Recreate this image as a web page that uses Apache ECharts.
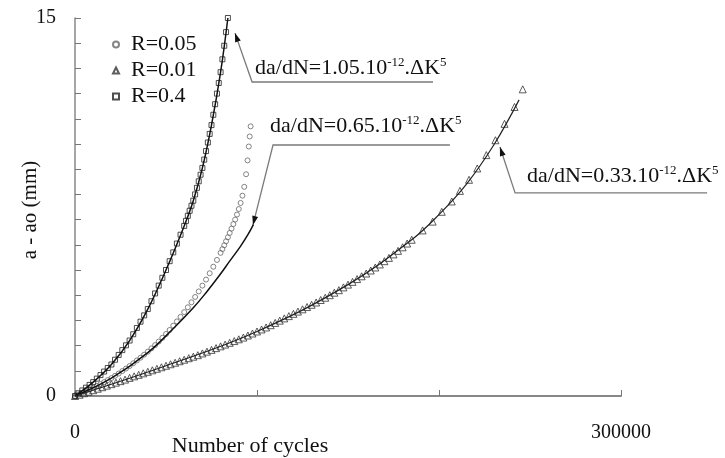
<!DOCTYPE html>
<html>
<head>
<meta charset="utf-8">
<script src="https://cdn.jsdelivr.net/npm/echarts@6/dist/echarts.min.js"></script>
<style>
  html, body { margin: 0; padding: 0; background: #fff; }
  #chart { width: 725px; height: 458px; }
</style>
</head>
<body>
<div id="chart"></div>
<script>
// x: number of cycles, y: a - ao (mm)
var xMax = 300000;
var yMax = 15;

// R=0.4 (squares)
var nR04 = [0, 2000, 4000, 6000, 8000, 10000, 12000, 14000, 16000, 18000, 20000,
  22000, 24000, 26000, 28000, 30000, 32000, 34000, 36000, 38000, 40000,
  42000, 44000, 46000, 48000, 50000, 52000, 54000, 56000, 58000, 60000,
  61000, 62000, 63000, 64000, 65000, 66000, 67000, 68000, 69000, 70000,
  71000, 72000, 73000, 74000, 75000, 76000, 77000, 78000, 79000, 80000,
  81000, 82000, 83000, 84000];
var aR04 = [0, 0.11, 0.22, 0.33, 0.44, 0.55, 0.69, 0.83, 0.97, 1.11, 1.25,
  1.44, 1.63, 1.82, 2.01, 2.2, 2.45, 2.7, 2.95, 3.2, 3.45,
  3.76, 4.07, 4.38, 4.69, 5.0, 5.35, 5.7, 6.05, 6.4, 6.75,
  6.95, 7.15, 7.35, 7.55, 7.75, 8.0, 8.26, 8.52, 8.78, 9.05,
  9.38, 9.72, 10.06, 10.4, 10.75, 11.16, 11.58, 12.0, 12.42, 12.85,
  13.36, 13.9, 14.44, 15.0];

// R=0.05 (circles)
var nR005 = [0, 2000, 4000, 6000, 8000, 10000, 12000, 14000, 16000, 18000, 20000,
  22000, 24000, 26000, 28000, 30000, 32000, 34000, 36000, 38000, 40000,
  42000, 44000, 46000, 48000, 50000, 52000, 54000, 56000, 58000, 60000,
  62000, 64000, 66000, 68000, 70000, 72000, 74000, 76000, 78000, 80000,
  81000, 82000, 83000, 84000, 85000, 86000, 87000, 88000, 89000, 90000,
  91000, 92000, 93000, 94000, 94800, 95500, 96000, 96500];
var aR005 = [0, 0.06, 0.13, 0.2, 0.26, 0.33, 0.4, 0.47, 0.55, 0.63, 0.71,
  0.8, 0.89, 0.99, 1.09, 1.19, 1.3, 1.41, 1.52, 1.64, 1.76,
  1.89, 2.02, 2.16, 2.31, 2.46, 2.62, 2.79, 2.96, 3.14, 3.33,
  3.52, 3.72, 3.93, 4.15, 4.38, 4.62, 4.87, 5.13, 5.4, 5.68,
  5.83, 5.98, 6.14, 6.3, 6.47, 6.64, 6.82, 7.0, 7.2, 7.42,
  7.66, 7.95, 8.3, 8.8, 9.35, 9.9, 10.3, 10.7];

// R=0.01 (triangles)
var nR001 = [0, 2500, 5000, 7500, 10000, 12500, 15000, 17500, 20000, 22500, 25000,
  27500, 30000, 32500, 35000, 37500, 40000, 42500, 45000, 47500, 50000,
  52500, 55000, 57500, 60000, 62500, 65000, 67500, 70000, 72500, 75000,
  77500, 80000, 82500, 85000, 87500, 90000, 92500, 95000, 97500, 100000,
  102500, 105000, 107500, 110000, 112500, 115000, 117500, 120000, 122500, 125000,
  127500, 130000, 132500, 135000, 137500, 140000, 142500, 145000, 147500, 150000,
  152500, 155000, 157500, 160000, 162500, 165000, 167500, 170000, 172500, 175000,
  177500, 180000, 182500, 185000,
  191000, 196500, 201500, 207000, 211500, 216500, 221000, 226000, 231000, 236000, 241500, 246000];
var aR001 = [0, 0.05, 0.11, 0.17, 0.23, 0.29, 0.35, 0.41, 0.47, 0.53, 0.59,
  0.65, 0.72, 0.78, 0.84, 0.9, 0.96, 1.02, 1.08, 1.14, 1.2,
  1.26, 1.32, 1.38, 1.44, 1.5, 1.56, 1.62, 1.69, 1.76, 1.83,
  1.9, 1.97, 2.04, 2.11, 2.18, 2.25, 2.32, 2.4, 2.48, 2.56,
  2.64, 2.72, 2.81, 2.9, 2.99, 3.08, 3.17, 3.26, 3.35, 3.44,
  3.53, 3.62, 3.71, 3.81, 3.9, 4.0, 4.1, 4.2, 4.31, 4.42,
  4.53, 4.64, 4.75, 4.86, 4.98, 5.1, 5.22, 5.35, 5.48, 5.62,
  5.76, 5.9, 6.05, 6.2,
  6.57, 6.92, 7.31, 7.72, 8.14, 8.58, 9.03, 9.56, 10.15, 10.8, 11.47, 12.17];

// fitted curves da/dN = C.dK^5
var nFit04 = [0, 10000, 20000, 30000, 40000, 50000, 60000, 65000, 70000, 75000, 80000, 84000];
var aFit04 = [0, 0.55, 1.25, 2.2, 3.45, 5.0, 6.75, 7.75, 9.05, 10.75, 12.85, 15.0];
var nFit005 = [0, 20000, 40000, 55000, 65000, 72000, 79000, 85000, 91000, 95000, 98000];
var aFit005 = [0, 0.71, 1.72, 2.75, 3.5, 4.1, 4.75, 5.35, 5.95, 6.4, 6.8];
var nFit001 = [0, 50000, 100000, 150000, 185000, 200000, 215000, 230000, 244000];
var aFit001 = [0, 1.2, 2.56, 4.42, 6.2, 7.2, 8.4, 9.95, 11.75];

// equation labels: coefficient, arrow tip, elbow, end of underline (x)
var eqCoef = ['1.05', '0.65', '0.33'];
var eqTip = [[87900, 14.4], [97800, 6.79], [233500, 9.88]];
var eqElbow = [[97300, 12.46], [108800, 9.96], [241800, 8.06]];
var eqEndX = [196700, 206000, 347300];
var eqTextDx = [3, -3, 12];
var eqTextDy = [7, 12, 10];

function zip(xs, ys) {
  var out = [];
  for (var i = 0; i < xs.length; i++) {
    out.push([xs[i], ys[i]]);
  }
  return out;
}

var serif = 'Liberation Serif';
var chart = echarts.init(document.getElementById('chart'));

function markerSeries(name, symbol, size, color, xs, ys) {
  return {
    name: name,
    type: 'scatter',
    symbol: symbol,
    symbolSize: size,
    itemStyle: { color: 'rgba(0,0,0,0)', borderColor: color, borderWidth: 1 },
    data: zip(xs, ys),
    z: 2
  };
}

function fitSeries(name, color, width, xs, ys) {
  return {
    name: name,
    type: 'line',
    smooth: 0.4,
    showSymbol: false,
    lineStyle: { color: color, width: width },
    data: zip(xs, ys),
    z: 3
  };
}

var option = {
  animation: false,
  backgroundColor: '#fff',
  grid: { left: 75, right: 104, top: 18, bottom: 62 },
  legend: {
    data: ['R=0.05', 'R=0.01', 'R=0.4'],
    orient: 'vertical',
    left: 107,
    top: 28,
    itemWidth: 6,
    itemHeight: 6,
    itemGap: 3,
    textStyle: { fontFamily: serif, fontSize: 22, color: '#111', lineHeight: 23, padding: [0, 0, 0, 7] }
  },
  xAxis: {
    type: 'value',
    min: 0,
    max: xMax,
    interval: 100000,
    splitLine: { show: false },
    axisLine: { lineStyle: { color: '#888', width: 2 } },
    axisTick: { inside: true, length: 6, lineStyle: { color: '#777' } },
    axisLabel: {
      margin: 27,
      fontFamily: serif, fontSize: 20, color: '#111',
      formatter: function (v) { return (v === 0 || v === xMax) ? String(v) : ''; }
    }
  },
  yAxis: {
    type: 'value',
    min: 0,
    max: yMax,
    interval: 1,
    splitLine: { show: false },
    axisLine: { lineStyle: { color: '#888', width: 1.5 } },
    axisTick: { inside: true, length: 6, lineStyle: { color: '#777' } },
    axisLabel: {
      margin: 19,
      fontFamily: serif, fontSize: 20, color: '#111',
      formatter: function (v) { return (v === 0 || v === yMax) ? String(v) : ''; }
    }
  },
  series: [
    markerSeries('R=0.05', 'circle', 5, '#666', nR005, aR005),
    markerSeries('R=0.01', 'triangle', 7, '#333', nR001, aR001),
    markerSeries('R=0.4', 'rect', 5, '#222', nR04, aR04),
    fitSeries('fit 0.4', '#111', 1.5, nFit04, aFit04),
    fitSeries('fit 0.05', '#111', 1.5, nFit005, aFit005),
    fitSeries('fit 0.01', '#222', 1.2, nFit001, aFit001)
  ]
};
chart.setOption(option);

// equation labels with leader lines and arrows
var graphics = [];
for (var i = 0; i < eqCoef.length; i++) {
  var tip = chart.convertToPixel({ gridIndex: 0 }, eqTip[i]);
  var elb = chart.convertToPixel({ gridIndex: 0 }, eqElbow[i]);
  var end = chart.convertToPixel({ gridIndex: 0 }, [eqEndX[i], eqElbow[i][1]]);
  graphics.push({
    type: 'polyline',
    silent: true,
    shape: { points: [end, elb, tip] },
    style: { stroke: '#7a7a7a', lineWidth: 1.3, fill: 'none' }
  });
  var ang = Math.atan2(tip[1] - elb[1], tip[0] - elb[0]);
  var len = 9, half = 3;
  var bx = tip[0] - len * Math.cos(ang), by = tip[1] - len * Math.sin(ang);
  graphics.push({
    type: 'polygon',
    silent: true,
    shape: { points: [
      tip,
      [bx + half * Math.sin(ang), by - half * Math.cos(ang)],
      [bx - half * Math.sin(ang), by + half * Math.cos(ang)]
    ] },
    style: { fill: '#111' }
  });
  graphics.push({
    type: 'text',
    silent: true,
    x: elb[0] + eqTextDx[i],
    y: elb[1] - eqTextDy[i] + 5,
    style: {
      text: '{n|da/dN=' + eqCoef[i] + '.10}{s|-12}{n|.\u0394K}{s|5}',
      align: 'left',
      verticalAlign: 'bottom',
      rich: {
        n: { fontFamily: serif, fontSize: 22, fill: '#111', lineHeight: 24 },
        s: { fontFamily: serif, fontSize: 13, fill: '#111', lineHeight: 13, verticalAlign: 'top' }
      }
    }
  });
}
// axis titles
graphics.push({
  type: 'text',
  silent: true,
  x: 250,
  y: 446,
  style: {
    text: 'Number of cycles',
    align: 'center',
    verticalAlign: 'middle',
    fontFamily: serif,
    fontSize: 22,
    fill: '#111'
  }
});
graphics.push({
  type: 'text',
  silent: true,
  x: 30,
  y: 210,
  rotation: Math.PI / 2,
  style: {
    text: 'a - ao (mm)',
    align: 'center',
    verticalAlign: 'middle',
    fontFamily: serif,
    fontSize: 21,
    fill: '#111'
  }
});
chart.setOption({ graphic: graphics });
</script>
</body>
</html>
